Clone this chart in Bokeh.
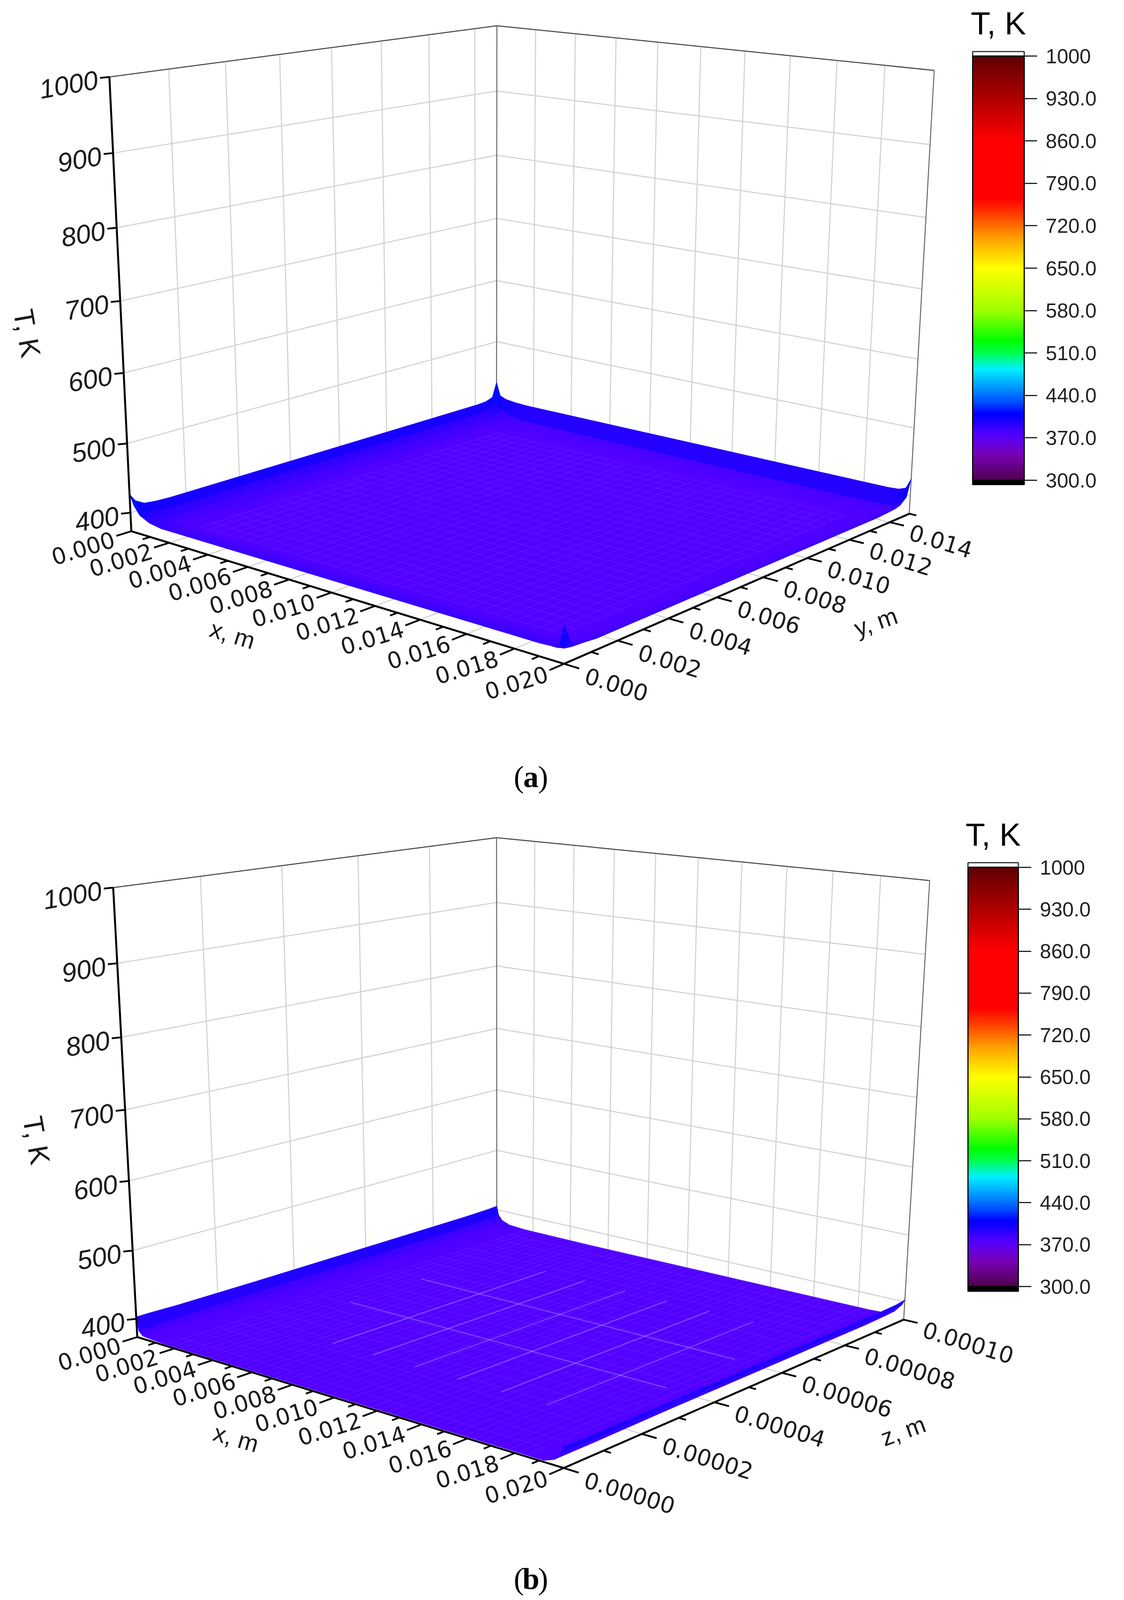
from bokeh.plotting import figure
from bokeh.core.properties import value
from bokeh.layouts import column
from bokeh.models import ColorBar, ColumnDataSource, FixedTicker, LinearColorMapper
from bokeh.embed import file_html
from bokeh.resources import INLINE
from bokeh.transform import transform
import numpy as np

# axis values
T_MIN = 373
T_MAX = 1000
T_TICKS = [400, 500, 600, 700, 800, 900, 1000]
X_MAX = 0.020
X_TICKS = [0.000, 0.002, 0.004, 0.006, 0.008, 0.010, 0.012, 0.014, 0.016, 0.018, 0.020]
X_LABELS = ["0.000", "0.002", "0.004", "0.006", "0.008", "0.010", "0.012", "0.014", "0.016", "0.018", "0.020"]
X_MINOR = [0.001, 0.003, 0.005, 0.007, 0.009, 0.011, 0.013, 0.015, 0.017, 0.019]
Y_MAX = 0.015
Y_TICKS = [0.000, 0.002, 0.004, 0.006, 0.008, 0.010, 0.012, 0.014]
Y_LABELS = ["0.000", "0.002", "0.004", "0.006", "0.008", "0.010", "0.012", "0.014"]
Y_MINOR = [0.001, 0.003, 0.005, 0.007, 0.009, 0.011, 0.013, 0.015]
Z_MAX = 0.0001
Z_TICKS = [0.0, 0.00002, 0.00004, 0.00006, 0.00008, 0.0001]
Z_LABELS = ["0.00000", "0.00002", "0.00004", "0.00006", "0.00008", "0.00010"]
Z_MINOR = [0.00001, 0.00003, 0.00005, 0.00007, 0.00009]

CBAR_TICKS = [300, 370, 440, 510, 580, 650, 720, 790, 860, 930, 1000]
CBAR_LABELS = ["300.0", "370.0", "440.0", "510.0", "580.0", "650.0", "720.0", "790.0", "860.0", "930.0", "1000"]

# colour scale
CMAP_T = [300, 340, 360, 375, 385, 395, 410, 425, 445, 483, 510, 530, 580, 650, 700, 735, 765, 860, 930, 1000]
CMAP_R = [80, 120, 100, 82, 60, 30, 0, 0, 0, 0, 0, 0, 160, 255, 255, 255, 255, 255, 176, 96]
CMAP_G = [0, 0, 0, 0, 0, 0, 0, 64, 128, 240, 255, 255, 255, 255, 160, 70, 0, 0, 0, 0]
CMAP_B = [80, 176, 224, 255, 255, 255, 255, 255, 255, 255, 80, 0, 0, 0, 0, 0, 0, 0, 0, 0]

# surface (a): T(x, y)
SURF_A_X = [0, .0002, .0005, .001, .0016, .005, .010, .015, .0184, .019, .0195, .0198, .02]
SURF_A_Y = [0, .0002, .0005, .0009, .0014, .004, .007, .010, .0136, .0141, .0145, .0148, .015]
SURF_A_T = [
    [427, 412, 400, 393, 390, 390, 390, 390, 390, 390, 391, 395, 424],
    [415, 402, 395, 388, 386, 386, 386, 386, 386, 386, 386, 388, 400],
    [408, 398, 390, 386, 384, 384, 384, 384, 384, 384, 384, 386, 392],
    [406, 394, 386, 382, 380, 379, 379, 379, 379, 380, 382, 385, 391],
    [405, 392, 384, 379, 376, 375, 375, 375, 375, 377, 379, 383, 390],
    [405, 392, 384, 378, 375, 375, 375, 375, 375, 377, 379, 383, 390],
    [405, 392, 384, 378, 375, 375, 375, 375, 375, 377, 379, 383, 390],
    [405, 392, 384, 378, 375, 375, 375, 375, 375, 377, 379, 383, 390],
    [405, 392, 384, 378, 375, 375, 375, 375, 375, 377, 379, 383, 390],
    [405, 393, 385, 379, 376, 376, 376, 376, 376, 378, 380, 384, 390],
    [406, 395, 386, 381, 378, 378, 378, 378, 378, 379, 381, 385, 392],
    [410, 399, 392, 386, 382, 381, 381, 381, 381, 382, 384, 390, 400],
    [433, 412, 408, 406, 405, 405, 405, 405, 405, 405, 406, 410, 425],
]

# surface (b): T(x, z)
SURF_B_X = [0, .0001, .0003, .0007, .0015, .005, .010, .015, .0185, .0192, .0196, .0199, .02]
SURF_B_Z = [0, .000003, .00001, .00003, .00006, .00009, .000097, .0001]
SURF_B_T = [
    [403, 383, 377, 376, 375, 375, 375, 375, 375, 375, 380, 392, 401],
    [403, 383, 377, 376, 375, 375, 375, 375, 375, 375, 380, 392, 400],
    [402, 384, 378, 376, 375, 375, 375, 375, 375, 375, 380, 392, 400],
    [402, 386, 379, 376, 375, 375, 375, 375, 375, 375, 381, 393, 400],
    [403, 387, 380, 377, 375, 375, 375, 375, 375, 375, 381, 393, 400],
    [404, 388, 381, 377, 375, 375, 375, 375, 375, 376, 381, 393, 400],
    [405, 390, 382, 378, 376, 375, 375, 375, 375, 376, 382, 394, 401],
    [406, 392, 384, 379, 377, 376, 376, 376, 376, 377, 383, 395, 403],
]

# the pale floor grid that shows through surface (b)
SEE_THROUGH_X = [0.006, 0.008, 0.010, 0.012, 0.014, 0.016]
SEE_THROUGH_Z = [0.00004, 0.00006]

# page layout, in reference pixels: (u, v, T) -> screen for the corners of each box
CAMERA_A = [
    (0, 0, 1000, 290, 248), (0, 1, 1000, 1279, 88), (1, 1, 1000, 2398, 227),
    (0, 0, T_MIN, 346, 1664), (1, 0, T_MIN, 1450, 2076), (1, 1, T_MIN, 2334, 1608),
    (0, 0, 500, 333, 1389), (0, 1, 500, 1279, 1073), (1, 1, 500, 2349, 1338),
    (0, 0, 800, 303, 714), (0, 1, 800, 1279, 490), (1, 1, 800, 2382, 687),
]
CAMERA_B = [
    (0, 0, 1000, 299, 2774), (0, 1, 1000, 1279, 2615), (1, 1, 1000, 2387, 2752),
    (0, 0, T_MIN, 361, 4175), (1, 0, T_MIN, 1450, 4582), (1, 1, T_MIN, 2321, 4119),
    (0, 0, 500, 347, 3900), (0, 1, 500, 1279, 3592), (1, 1, 500, 2334, 3852),
    (0, 0, 800, 315, 3238), (0, 1, 800, 1279, 3019), (1, 1, 800, 2368, 3206),
]
WIDTH = 2862
PANEL_TOP_A = 8
PANEL_TOP_B = 2487
PANEL_END = 4979
FIT_Y = 0.822  # the photographed window is shorter than the reference
FONT = "Liberation Sans"
WIDE_FONT = "DejaVu Sans"


def fit_camera(points):
    rows, rhs = [], []
    for u, v, t, sx, sy in points:
        w = (t - T_MIN) / (T_MAX - T_MIN)
        rows.append([u, v, w, 1, 0, 0, 0, 0, -sx * u, -sx * v, -sx * w])
        rhs.append(sx)
        rows.append([0, 0, 0, 0, u, v, w, 1, -sy * u, -sy * v, -sy * w])
        rhs.append(sy)
    m = np.linalg.lstsq(np.array(rows, float), np.array(rhs, float), rcond=None)[0]
    return np.append(m, 1.0).reshape(3, 4)


palette = []
for t in range(300, 1001):
    r = int(np.interp(t, CMAP_T, CMAP_R))
    g = int(np.interp(t, CMAP_T, CMAP_G))
    b = int(np.interp(t, CMAP_T, CMAP_B))
    palette.append("#%02x%02x%02x" % (r, g, b))
mapper = LinearColorMapper(palette=palette, low=300, high=1000)


def panel(y_top_page, y_end_page, camera, a_max, a_ticks, a_labels, a_minor, a_name, surf_x, surf_a, surf_t, mesh, cbar,
          titles, caption):
    p = figure(width=WIDTH, height=int((y_end_page - y_top_page) * FIT_Y), x_range=(8, 8 + WIDTH),
               y_range=(y_end_page, y_top_page),
               output_backend="svg", toolbar_location=None, min_border=0)
    p.axis.visible = False
    p.grid.visible = False
    p.outline_line_color = None
    P = fit_camera(camera)

    def proj(x, a, t):
        h = P @ np.array([x / X_MAX, a / a_max, (t - T_MIN) / (T_MAX - T_MIN), 1.0])
        return h[0] / h[2], h[1] / h[2]

    def seg(p0, p1):
        a = proj(*p0)
        b = proj(*p1)
        return [a[0], b[0]], [a[1], b[1]]

    def lines(segs, color, width, alpha=1.0):
        pairs = [seg(*s) for s in segs]
        p.multi_line([q[0] for q in pairs], [q[1] for q in pairs], line_color=color, line_width=width, line_alpha=alpha)

    # walls and floor grid
    grid = []
    for t in T_TICKS:
        grid.append(((0, 0, t), (0, a_max, t)))
        grid.append(((0, a_max, t), (X_MAX, a_max, t)))
    for a in a_ticks[1:]:
        if a < a_max:
            grid.append(((0, a, T_MIN), (0, a, T_MAX)))
            grid.append(((0, a, T_MIN), (X_MAX, a, T_MIN)))
    for x in X_TICKS[1:-1]:
        grid.append(((x, a_max, T_MIN), (x, a_max, T_MAX)))
        grid.append(((x, 0, T_MIN), (x, a_max, T_MIN)))
    lines(grid, "#d4d4d4", 3)

    lines([((0, 0, T_MAX), (0, a_max, T_MAX)), ((0, a_max, T_MAX), (X_MAX, a_max, T_MAX))], "#444444", 2.5)
    lines([((0, a_max, T_MIN), (0, a_max, T_MAX)), ((X_MAX, a_max, T_MIN), (X_MAX, a_max, T_MAX))], "#666666", 2.5)

    # surface, back cells first
    cells = []
    for j in range(len(surf_a) - 1):
        for i in range(len(surf_x) - 1):
            cells.append((i, j))
    cells.sort(key=lambda c: surf_x[c[0]] / X_MAX - surf_a[c[1]] / a_max)
    xs, ys, ts = [], [], []
    for i, j in cells:
        corners = [(i, j), (i + 1, j), (i + 1, j + 1), (i, j + 1)]
        pts = [proj(surf_x[c], surf_a[d], surf_t[d][c]) for c, d in corners]
        xs.append([q[0] for q in pts])
        ys.append([q[1] for q in pts])
        ts.append(sum(surf_t[d][c] for c, d in corners) / 4)
    src = ColumnDataSource(dict(xs=xs, ys=ys, t=ts))
    p.patches("xs", "ys", source=src, fill_color=transform("t", mapper),
              line_color=transform("t", mapper), line_width=1)

    # faint mesh of the surface
    x0, x1, a0, a1, nx, na = mesh
    mesh_segs = []
    for x in np.linspace(x0, x1, nx):
        mesh_segs.append(((x, a0, 375), (x, a1, 375)))
    for a in np.linspace(a0, a1, na):
        mesh_segs.append(((x0, a, 375), (x1, a, 375)))
    lines(mesh_segs, "#7a3cff", 1.5, 0.35)

    if a_name == "z":
        through = []
        for x in SEE_THROUGH_X:
            through.append(((x, 0.00002, 375), (x, 0.00008, 375)))
        for a in SEE_THROUGH_Z:
            through.append(((0.003, a, 375), (0.018, a, 375)))
        lines(through, "#a58cff", 2.5, 0.55)

    # axes
    lines([((0, 0, T_MIN), (X_MAX, 0, T_MIN)), ((X_MAX, 0, T_MIN), (X_MAX, a_max, T_MIN))], "#000000", 5)
    lines([((0, 0, T_MIN), (0, 0, T_MAX))], "#000000", 5)

    tick_y = a_max * 0.035
    tick_segs = []
    for x in X_TICKS:
        tick_segs.append(((x, 0, T_MIN), (x, -tick_y, T_MIN)))
    for x in X_MINOR:
        tick_segs.append(((x, 0, T_MIN), (x, -tick_y / 2, T_MIN)))
    for a in a_ticks:
        tick_segs.append(((X_MAX, a, T_MIN), (X_MAX + 0.0006, a, T_MIN)))
    for a in a_minor:
        tick_segs.append(((X_MAX, a, T_MIN), (X_MAX + 0.0003, a, T_MIN)))
    lines(tick_segs, "#000000", 4.5)

    # labels of the three axes
    lx = [proj(x, -tick_y * 1.15, T_MIN) for x in X_TICKS]
    p.text([q[0] for q in lx], [q[1] + 6 for q in lx], text=X_LABELS, angle=np.radians(17),
           text_font=value(WIDE_FONT), text_font_size="58px", text_align="right", text_baseline="middle",
           text_color="#1a1a1a")
    ly = [proj(X_MAX + 0.00085, a, T_MIN) for a in a_ticks]
    p.text([q[0] for q in ly], [q[1] + 14 for q in ly], text=a_labels, angle=np.radians(-17),
           text_font=value(WIDE_FONT), text_font_size="58px", text_align="left", text_baseline="middle",
           text_color="#1a1a1a")

    lt = [proj(0, 0, t) for t in T_TICKS]
    p.multi_line([[q[0] - 24, q[0]] for q in lt], [[q[1] + 3, q[1]] for q in lt], line_color="#000000", line_width=4.5)
    p.text([q[0] - 30 for q in lt], [q[1] + 8 for q in lt], text=[str(t) for t in T_TICKS], angle=np.radians(10),
           text_font=value(FONT), text_font_style="italic", text_font_size="68px", text_align="right",
           text_baseline="middle", text_color="#1a1a1a")

    for name, tx, ty, ang, size in titles:
        p.text([tx], [ty], text=[name], angle=np.radians(ang), text_font=value(FONT), text_font_size=size,
               text_align="center", text_baseline="middle", text_color="#1a1a1a")

    # caption: brackets regular, letter bold
    cx, cy, letter = caption
    for dx, s, style in ((-31, "(", "normal"), (0, letter, "bold"), (31, ")", "normal")):
        p.text([cx + dx], [cy], text=[s], text_font=value("Liberation Serif"), text_font_style=style,
               text_font_size="78px", text_align="center", text_baseline="middle", text_color="#000000")

    # colour bar, with the out of range strips above and below it
    bx0, bx1, y_top, y_1000, y_300, y_bot = cbar
    p.quad(left=[bx0], right=[bx1], top=[y_top], bottom=[y_1000], fill_color="#ffffff", line_color="#333333", line_width=3)
    p.quad(left=[bx0], right=[bx1], top=[y_300], bottom=[y_bot], fill_color="#000000", line_color="#000000", line_width=3)
    bar = ColorBar(color_mapper=mapper, location=(bx0 - 8, int((y_end_page - y_300) * FIT_Y)), width=bx1 - bx0,
                   height=int((y_300 - y_1000) * FIT_Y),
                   ticker=FixedTicker(ticks=CBAR_TICKS),
                   major_label_overrides=dict(zip(CBAR_TICKS, CBAR_LABELS)),
                   major_label_text_font=FONT, major_label_text_font_size="52px", major_label_text_color="#222222",
                   major_tick_in=0, major_tick_out=33, major_tick_line_color="#222222", major_tick_line_width=3,
                   minor_tick_line_color=None, bar_line_color="#000000", bar_line_width=3,
                   label_standoff=22, padding=0, margin=0, border_line_color=None, background_fill_color=None)
    p.add_layout(bar)
    p.text([(bx0 + bx1) / 2], [y_top - 88], text=["T, K"], text_font=value(FONT), text_font_size="82px",
           text_align="center", text_baseline="middle", text_color="#000000")
    return p


p_a = panel(PANEL_TOP_A, PANEL_TOP_B, CAMERA_A, Y_MAX, Y_TICKS, Y_LABELS, Y_MINOR, "y", SURF_A_X, SURF_A_Y, SURF_A_T,
            (0.0016, 0.0184, 0.0014, 0.0136, 36, 28),
            (2498, 2630, 168, 182, 1504, 1517),
            [("T, K", 77, 1046, -80, "72px"), ("x, m", 603, 1985, -17, "62px"), ("y, m", 2250, 1945, 19, "62px")],
            (1367, 2427, "a"))
p_b = panel(PANEL_TOP_B, PANEL_END, CAMERA_B, Z_MAX, Z_TICKS, Z_LABELS, Z_MINOR, "z", SURF_B_X, SURF_B_Z, SURF_B_T,
            (0.0015, 0.0185, 0.0, 0.0001, 46, 24),
            (2486, 2615, 2695, 2709, 4015, 4030),
            [("T, K", 101, 3560, -80, "72px"), ("x, m", 612, 4488, -16, "62px"), ("z, m", 2320, 4465, 20, "62px")],
            (1367, 4926, "b"))

page = column(p_a, p_b, spacing=0)
open("out.html", "w").write(file_html(page, INLINE))
